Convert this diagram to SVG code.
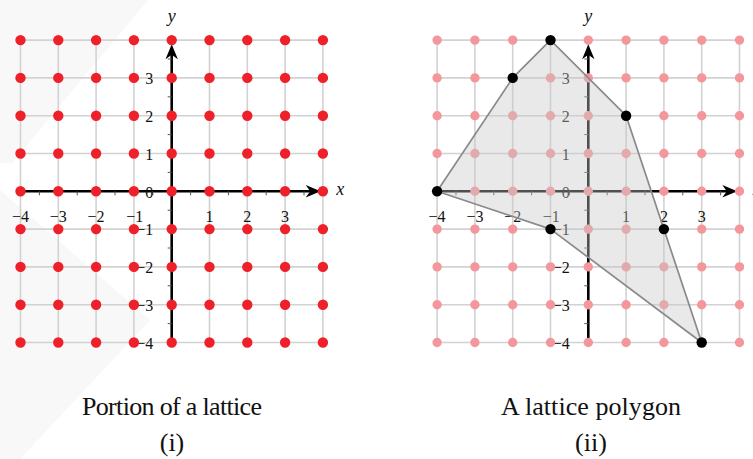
<svg xmlns="http://www.w3.org/2000/svg" xmlns:xlink="http://www.w3.org/1999/xlink" width="753" height="459" viewBox="0 0 753 459">
<style>
.grid{fill:none;stroke:#d2d2d2;stroke-width:1.6}
.axis{fill:none;stroke:#000;stroke-width:2.6}
.tick{fill:none;stroke:#555;stroke-width:1}
.head{fill:#000;stroke:none}
.num{font-family:'Liberation Serif','Times New Roman','DejaVu Serif',serif;font-size:16px;fill:#111}
.var{font-family:'Liberation Serif','Times New Roman','DejaVu Serif',serif;font-size:18px;font-style:italic;fill:#111}
.cap{font-family:'Liberation Serif','Times New Roman','DejaVu Serif',serif;font-size:26px;fill:#111;text-anchor:middle}
.reddots{fill:none;stroke:#ee2029;stroke-width:10.4;stroke-linecap:round;stroke-dasharray:0 37.8}
.pinkdots{fill:none;stroke:#f4979c;stroke-width:9.4;stroke-linecap:round;stroke-dasharray:0 37.8}
.bdot{fill:#000}
.poly{fill:#c8c8c8;fill-opacity:0.4;stroke:#8a8a8a;stroke-width:1.7;stroke-linejoin:round}
</style>
<defs>
<path id="gridpath" class="grid" d="M-151.2 -151.2V151.2M-113.4 -151.2V151.2M-75.6 -151.2V151.2M-37.8 -151.2V151.2M0 -151.2V151.2M37.8 -151.2V151.2M75.6 -151.2V151.2M113.4 -151.2V151.2M151.2 -151.2V151.2M-151.2 -151.2H151.2M-151.2 -113.4H151.2M-151.2 -75.6H151.2M-151.2 -37.8H151.2M-151.2 0H151.2M-151.2 37.8H151.2M-151.2 75.6H151.2M-151.2 113.4H151.2M-151.2 151.2H151.2"/>
<g id="axes">
<path class="axis" d="M-151.2 0H140M0 151.2V-137"/>
<path class="tick" d="M-132.3 0v4M-94.5 0v4M-56.7 0v4M-18.9 0v4M18.9 0v4M56.7 0v4M94.5 0v4M132.3 0v4M0 -132.3h-4M0 -94.5h-4M0 -56.7h-4M0 -18.9h-4M0 18.9h-4M0 56.7h-4M0 94.5h-4M0 132.3h-4"/>
<path class="head" d="M149 0L134 -6.2L138.5 0L134 6.2Z"/>
<path class="head" d="M0 -147L-6.2 -132L0 -136.5L6.2 -132Z"/>
</g>
<g id="labels">
<g class="num" text-anchor="end">
<text x="-18.5" y="-107">3</text>
<text x="-18.5" y="-69.2">2</text>
<text x="-18.5" y="-31.4">1</text>
<text x="-18.5" y="6.4">0</text>
<text x="-18.5" y="44.2">−1</text>
<text x="-18.5" y="82">−2</text>
<text x="-18.5" y="119.8">−3</text>
<text x="-18.5" y="157.6">−4</text>
</g>
<g class="num" text-anchor="middle">
<text x="-151.2" y="31">−4</text>
<text x="-113.4" y="31">−3</text>
<text x="-75.6" y="31">−2</text>
<text x="-37" y="31">−1</text>
<text x="37.8" y="31">1</text>
<text x="75.6" y="31">2</text>
<text x="113.4" y="31">3</text>
</g>
<text class="var" x="0" y="-169.5" text-anchor="middle">y</text>
<text class="var" x="164.5" y="4">x</text>
</g>
<path id="dotrows" d="M-151.2 -151.2H151.3M-151.2 -113.4H151.3M-151.2 -75.6H151.3M-151.2 -37.8H151.3M-151.2 0H151.3M-151.2 37.8H151.3M-151.2 75.6H151.3M-151.2 113.4H151.3M-151.2 151.2H151.3"/>
</defs>

<g id="watermark" fill="#f8f8f8">
<polygon points="0,0 148,0 12,163 0,163"/>
<polygon points="0,190 150,320 20,459 0,459"/>
</g>

<g id="lattice" transform="translate(171.7,191.3)">
<use xlink:href="#gridpath"/>
<use xlink:href="#axes"/>
<use xlink:href="#labels"/>
<use xlink:href="#dotrows" class="reddots"/>
</g>

<g id="lattice-polygon" transform="translate(588.3,191.3)">
<use xlink:href="#gridpath"/>
<use xlink:href="#axes"/>
<use xlink:href="#labels"/>
<use xlink:href="#dotrows" class="pinkdots"/>
<polygon class="poly" points="-151.2,0 -75.6,-113.4 -37.8,-151.2 37.8,-75.6 113.4,151.2 -37.8,37.8"/>
<g class="bdot">
<circle cx="-151.2" cy="0" r="5.2"/>
<circle cx="-75.6" cy="-113.4" r="5.2"/>
<circle cx="-37.8" cy="-151.2" r="5.2"/>
<circle cx="37.8" cy="-75.6" r="5.2"/>
<circle cx="75.6" cy="37.8" r="5.2"/>
<circle cx="113.4" cy="151.2" r="5.2"/>
<circle cx="-37.8" cy="37.8" r="5.2"/>
</g>
</g>

<g id="captions">
<text class="cap" x="172" y="415" textLength="180">Portion of a lattice</text>
<text class="cap" x="172" y="451">(i)</text>
<text class="cap" x="591" y="415" textLength="180">A lattice polygon</text>
<text class="cap" x="591" y="451">(ii)</text>
</g>
</svg>
